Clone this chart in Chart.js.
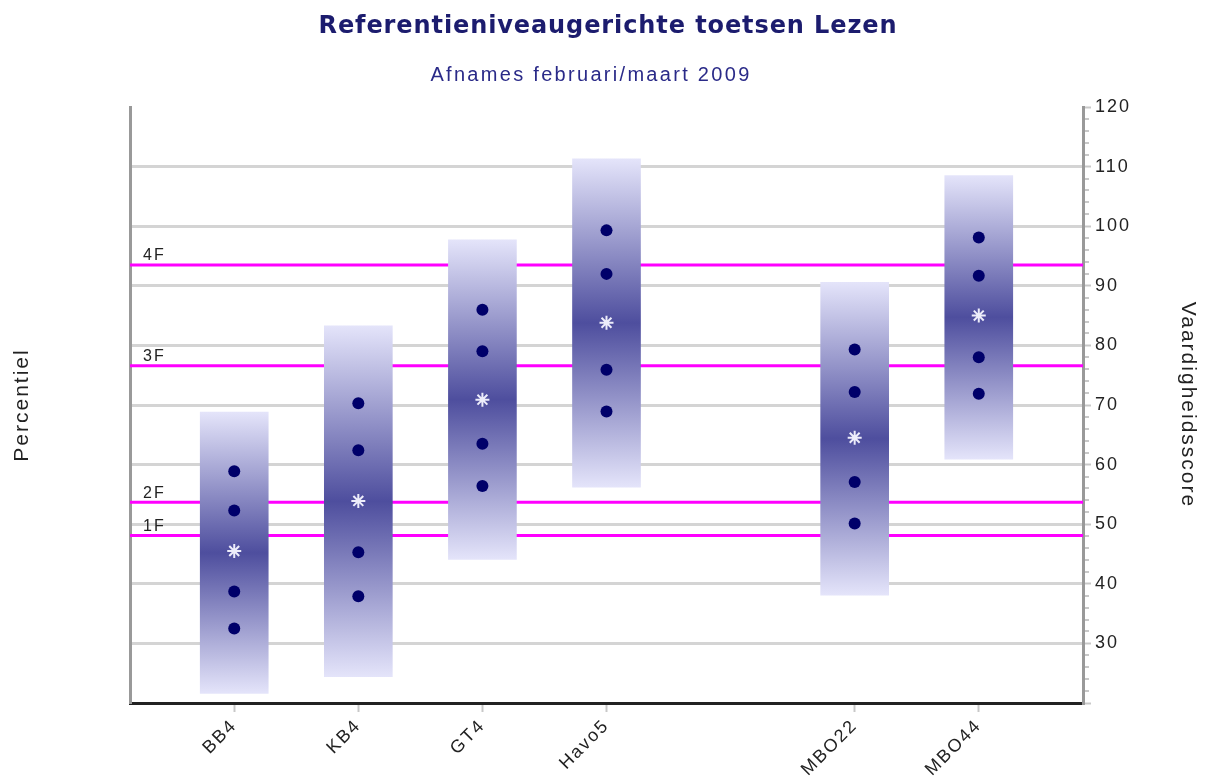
<!DOCTYPE html>
<html>
<head>
<meta charset="utf-8">
<script src="https://cdn.jsdelivr.net/npm/chart.js@4"></script>
<style>
  html, body { margin: 0; padding: 0; background: #fff; }
  #wrap { width: 1216px; height: 783px; }
</style>
</head>
<body>
<div id="wrap"><canvas id="lezen"></canvas></div>
<script>
var categories = ["BB4", "KB4", "GT4", "Havo5", "MBO22", "MBO44"];
var catPos = [1, 2, 3, 4, 6, 7];

var boxHigh = [68.8, 83.3, 97.7, 111.3, 90.6, 108.5];
var boxLow = [21.6, 24.4, 44.1, 56.2, 38.1, 60.9];
var p90 = [58.9, 70.3, 86.0, 99.3, 79.3, 98.1];
var p75 = [52.3, 62.4, 79.0, 92.0, 72.2, 91.7];
var median = [45.5, 53.9, 70.9, 83.8, 64.5, 85.0];
var p25 = [38.7, 45.3, 63.5, 75.9, 57.1, 78.0];
var p10 = [32.5, 37.9, 56.4, 68.9, 50.1, 71.9];

var refLabels = ["4F", "3F", "2F", "1F"];
var refValues = [93.5, 76.6, 53.7, 48.1];

var titleText = "Referentieniveaugerichte toetsen Lezen";
var subtitleText = "Afnames februari/maart 2009";

var xMin = 0.16, xMax = 7.84;
var yMin = 20, yMax = 120;

var lightBlue = "rgb(228,228,250)";
var darkBlue = "rgb(78,78,158)";

Chart.defaults.font.family = "'Liberation Sans', Arial, sans-serif";
Chart.defaults.color = "#222";

function pts(values) {
  return values.map((v, i) => ({ x: catPos[i], y: v }));
}

var datasets = [];

// dots for the percentiles
[p90, p75, p25, p10].forEach(arr => {
  datasets.push({
    type: "line",
    data: pts(arr),
    showLine: false,
    pointStyle: "circle",
    pointRadius: 6,
    pointBackgroundColor: "#00006a",
    pointBorderColor: "#00006a",
    pointBorderWidth: 0,
    order: 0
  });
});

// median star
datasets.push({
  type: "line",
  data: pts(median),
  showLine: false,
  pointStyle: "star",
  pointRadius: 7,
  pointBorderColor: "rgba(245,245,255,0.95)",
  pointBorderWidth: 2,
  order: 1
});

// gradient boxes
datasets.push({
  type: "bar",
  data: catPos.map((x, i) => ({ x: x, y: [boxLow[i], boxHigh[i]] })),
  barThickness: 68,
  borderWidth: 0,
  backgroundColor: ctx => {
    var chart = ctx.chart;
    if (!chart.chartArea || ctx.type !== "data") return darkBlue;
    var y = chart.scales.y;
    var top = y.getPixelForValue(boxHigh[ctx.dataIndex]);
    var bot = y.getPixelForValue(boxLow[ctx.dataIndex]);
    var g = chart.ctx.createLinearGradient(0, top, 0, bot);
    g.addColorStop(0, lightBlue);
    g.addColorStop(0.5, darkBlue);
    g.addColorStop(1, lightBlue);
    return g;
  },
  order: 2
});

// reference levels
refValues.forEach(v => {
  datasets.push({
    type: "line",
    data: [{ x: xMin, y: v }, { x: xMax, y: v }],
    borderColor: "#ff00ff",
    borderWidth: 3,
    pointRadius: 0,
    order: 3
  });
});

// the original renders all text a bit spread out
var spacing = {
  id: "spacing",
  beforeLayout(chart) { chart.ctx.letterSpacing = "2px"; },
  beforeDraw(chart) { chart.ctx.letterSpacing = "2px"; }
};

var extras = {
  id: "extras",
  afterDraw(chart) {
    var c = chart.ctx, y = chart.scales.y, area = chart.chartArea;
    c.save();
    // titles
    c.textAlign = "center";
    c.textBaseline = "middle";
    c.letterSpacing = "0.9px";
    c.fillStyle = "#1c1c6e";
    c.font = "bold 24px 'DejaVu Sans', sans-serif";
    c.fillText(titleText, 608, 27);
    c.letterSpacing = "2.3px";
    c.fillStyle = "#2a2a88";
    c.font = "20px 'Liberation Sans', Arial, sans-serif";
    c.fillText(subtitleText, 591, 75);
    // minor ticks on the right axis
    c.strokeStyle = "#c8c8c8";
    c.lineWidth = 2;
    for (var v = yMin + 2; v < yMax; v += 2) {
      if (v % 10 === 0) continue;
      var py = Math.round(y.getPixelForValue(v));
      c.beginPath();
      c.moveTo(area.right + 2, py);
      c.lineTo(area.right + 6, py);
      c.stroke();
    }
    // labels of the reference lines
    c.letterSpacing = "2px";
    c.textAlign = "left";
    c.fillStyle = "#222";
    c.font = "16px 'Liberation Sans', Arial, sans-serif";
    c.textBaseline = "bottom";
    refValues.forEach((v, i) => {
      c.fillText(refLabels[i], area.left + 13, y.getPixelForValue(v) - 1);
    });
    c.restore();
  }
};

new Chart("lezen", {
  type: "bar",
  data: { datasets: datasets },
  plugins: [spacing, extras],
  options: {
    responsive: true,
    maintainAspectRatio: false,
    animation: false,
    layout: { padding: { top: 107, left: 0, right: 0, bottom: 0 } },
    plugins: {
      legend: { display: false },
      tooltip: { enabled: false },
      title: { display: false }
    },
    scales: {
      x: {
        type: "linear",
        position: "bottom",
        offset: false,
        min: xMin,
        max: xMax,
        afterBuildTicks: scale => {
          scale.ticks = catPos.map(v => ({ value: v }));
        },
        afterFit: scale => { scale.height = 80; },
        ticks: {
          autoSkip: false,
          minRotation: 45,
          maxRotation: 45,
          font: { size: 18 },
          color: "#222",
          callback: value => categories[catPos.indexOf(value)]
        },
        grid: {
          offset: false,
          drawOnChartArea: false,
          tickLength: 9,
          tickColor: "#c8c8c8",
          tickWidth: 2
        },
        border: { color: "#222", width: 3 }
      },
      y: {
        type: "linear",
        position: "right",
        min: yMin,
        max: yMax,
        afterFit: scale => { scale.width = 133; },
        ticks: {
          stepSize: 10,
          font: { size: 18 },
          color: "#222",
          padding: 4,
          callback: value => (value === yMin ? "" : value)
        },
        grid: {
          color: ctx => (ctx.tick && (ctx.tick.value === yMin || ctx.tick.value === yMax) ? "rgba(0,0,0,0)" : "#d4d4d4"),
          lineWidth: 3,
          tickLength: 8,
          tickColor: "#c8c8c8",
          tickWidth: 2
        },
        border: { color: "#999", width: 3 },
        title: {
          display: true,
          text: "Vaardigheidsscore",
          font: { size: 21 },
          color: "#222",
          padding: { top: 16, bottom: 0 }
        }
      },
      yLeft: {
        type: "linear",
        position: "left",
        min: yMin,
        max: yMax,
        afterFit: scale => { scale.width = 130; },
        ticks: { display: false },
        grid: { display: false },
        border: { color: "#999", width: 3 },
        title: {
          display: true,
          text: "Percentiel",
          font: { size: 21 },
          color: "#222",
          padding: { top: 10, bottom: 0 }
        }
      }
    }
  }
});
</script>
</body>
</html>
